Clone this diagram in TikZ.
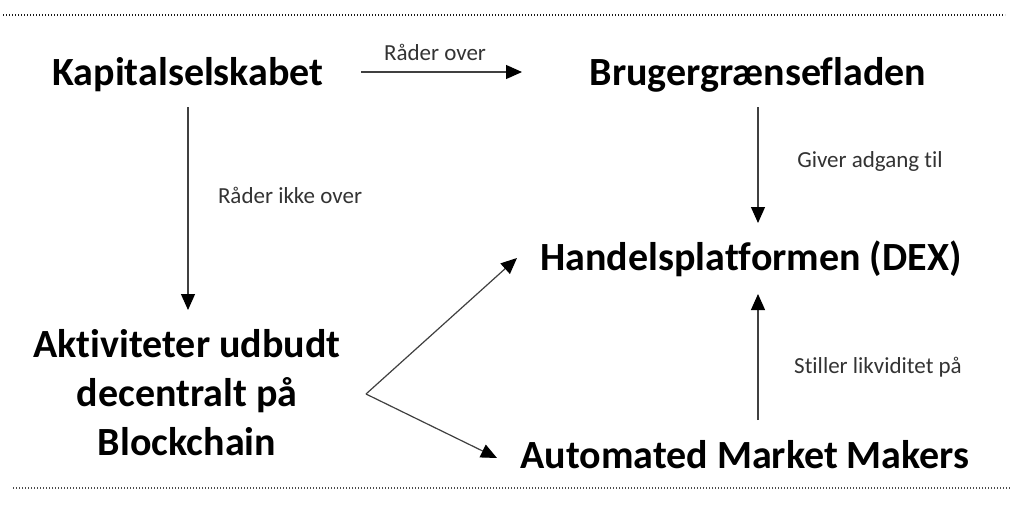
\documentclass[tikz,border=0pt]{standalone}
\usepackage{fontspec}
\setmainfont{Carlito}[Ligatures=NoCommon]
\usetikzlibrary{arrows.meta}
\begin{document}
\begin{tikzpicture}[x=1pt,y=-1pt,
  big/.style={font=\fontsize{40}{49}\selectfont\bfseries, text=black, inner sep=0pt, anchor=base},
  small/.style={font=\fontsize{23}{28}\selectfont, text=black!80, inner sep=0pt, anchor=base},
  conn/.style={draw=black!75, line width=1.2pt, -{Triangle[length=16pt,width=14pt,fill=black,color=black]}},
  rule/.style={draw=black!70, line width=1.3pt, dash pattern=on 1.3pt off 1.7pt},
  toprule/.style={rule, draw=black!90, line width=1.8pt}]
\useasboundingbox (0,0) rectangle (1025,515);
\fill[white] (0,0) rectangle (1025,515);
% dotted rules
\coordinate (tl) at (3,15); \coordinate (tr) at (1005,15);
\coordinate (bl) at (13,488); \coordinate (br) at (1010,488);
\draw[toprule] (tl) -- (tr);
\draw[rule] (bl) -- (br);
% main texts
\node[big] (kap) at (188,85) {Kapitalselskabet};
\node[big] (brug) at (758,85) {Brugergrænsefladen};
\node[big] (dex) at (751,270) {Handelsplatformen (DEX)};
\node[big] (amm) at (745,468) {Automated Market Makers};
\node[big] (akt1) at (187,357) {Aktiviteter udbudt};
\node[big] (akt2) at (187,406) {decentralt på};
\node[big] (akt3) at (187,455) {Blockchain};
% connector ends
\coordinate (kapE) at (361,72); \coordinate (brugW) at (522,72);
\coordinate (kapS) at (188,107); \coordinate (aktN) at (188,310);
\coordinate (brugS) at (758,107); \coordinate (dexN) at (758,223);
\coordinate (ammN) at (758,420); \coordinate (dexS) at (758,294);
\coordinate (aktE) at (366,394); \coordinate (dexW) at (517,258); \coordinate (ammW) at (497,458);
\draw[conn] (kapE) -- (brugW);
\draw[conn] (kapS) -- (aktN);
\draw[conn] (brugS) -- (dexN);
\draw[conn] (ammN) -- (dexS);
\draw[conn] (aktE) -- (dexW);
\draw[conn] (aktE) -- (ammW);
% labels
\node[small] (l1) at (435,60) {Råder over};
\node[small] (l2) at (290,203) {Råder ikke over};
\node[small] (l3) at (870,167) {Giver adgang til};
\node[small] (l4) at (878,373) {Stiller likviditet på};
\end{tikzpicture}
\end{document}
